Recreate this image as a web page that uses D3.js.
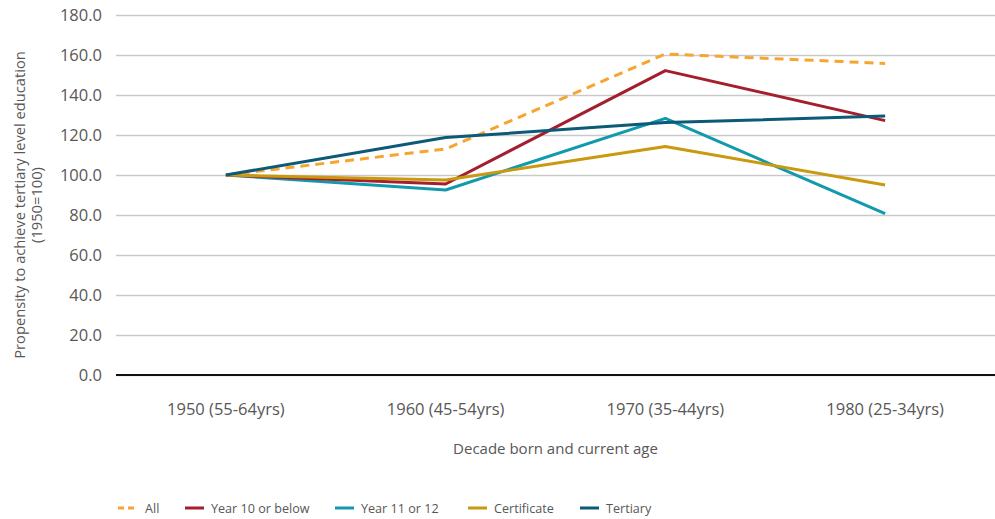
<!DOCTYPE html>
<html>
<head>
<meta charset="utf-8">
<script src="https://cdn.jsdelivr.net/npm/d3@7"></script>
<style>
  body { margin: 0; background: #fff; }
  text { font-family: "Open Sans", sans-serif; fill: #575757; }
</style>
</head>
<body>
<div id="chart"></div>
<script>
// categories on the x axis
const decades = ["1950 (55-64yrs)", "1960 (45-54yrs)", "1970 (35-44yrs)", "1980 (25-34yrs)"];
const yTicks = [0, 20, 40, 60, 80, 100, 120, 140, 160, 180];

// series values (1950 = 100)
const allValues = [100, 113, 160.5, 155.8];
const year10Values = [100, 95.5, 152.2, 127.2];
const year11Values = [100, 92.5, 128.3, 80.7];
const certificateValues = [100, 97.5, 114.2, 95];
const tertiaryValues = [100, 118.7, 126.2, 129.5];

const seriesNames = ["All", "Year 10 or below", "Year 11 or 12", "Certificate", "Tertiary"];
const seriesColors = ["#F7A531", "#A41E2D", "#1199AE", "#C9990F", "#0D5A78"];

const series = [
    { name: seriesNames[0], values: allValues, color: seriesColors[0], dashed: true },
    { name: seriesNames[1], values: year10Values, color: seriesColors[1] },
    { name: seriesNames[2], values: year11Values, color: seriesColors[2] },
    { name: seriesNames[3], values: certificateValues, color: seriesColors[3] },
    { name: seriesNames[4], values: tertiaryValues, color: seriesColors[4] },
];

const width = 995, height = 519;
const margin = { top: 15, right: 0, bottom: 144, left: 116 };

const svg = d3.select("#chart").append("svg")
    .attr("width", width)
    .attr("height", height);

const x = d3.scaleBand()
    .domain(decades)
    .range([margin.left, width - margin.right]);

const y = d3.scaleLinear()
    .domain([0, 180])
    .range([height - margin.bottom, margin.top]);

// gridlines + y labels
const yAxis = svg.append("g")
    .attr("transform", `translate(${margin.left},0)`)
    .call(d3.axisLeft(y).tickValues(yTicks).tickFormat(d3.format(".1f")).tickSize(-(width - margin.left - margin.right)).tickPadding(14));
yAxis.select(".domain").remove();
yAxis.selectAll(".tick line").attr("stroke", "#c9c9c9").attr("stroke-width", 1.3);
yAxis.selectAll(".tick text").attr("font-size", 16.5).style("fill", "#575757");

// baseline
svg.append("line")
    .attr("x1", margin.left).attr("x2", width - margin.right)
    .attr("y1", y(0)).attr("y2", y(0))
    .attr("stroke", "#111").attr("stroke-width", 2);

// x labels
const xAxis = svg.append("g")
    .attr("transform", `translate(0,${y(0)})`)
    .call(d3.axisBottom(x).tickSize(0).tickPadding(28));
xAxis.select(".domain").remove();
xAxis.selectAll(".tick text").attr("font-size", 16.5).style("fill", "#575757");

svg.append("text")
    .attr("x", (margin.left + width - margin.right) / 2)
    .attr("y", 454)
    .attr("text-anchor", "middle")
    .attr("font-size", 15)
    .text("Decade born and current age");

// y title, two lines
const yTitle = svg.append("text")
    .attr("transform", `translate(25,${y(85)}) rotate(-90)`)
    .attr("text-anchor", "middle")
    .attr("font-size", 14.7);
yTitle.append("tspan").attr("x", 0).attr("y", 0).text("Propensity to achieve tertiary level education");
yTitle.append("tspan").attr("x", 0).attr("y", 16.5).text("(1950=100)");

// lines
const line = d3.line()
    .x((d, i) => x(decades[i]) + x.bandwidth() / 2)
    .y(d => y(d));

// draw order: keep tertiary on top as in the source
const drawOrder = [series[2], series[1], series[3], series[0], series[4]];
svg.append("g").selectAll("path")
    .data(drawOrder)
    .join("path")
    .attr("d", d => line(d.values))
    .attr("fill", "none")
    .attr("stroke", d => d.color)
    .attr("stroke-width", 3)
    .attr("stroke-linejoin", "round")
    .attr("stroke-dasharray", d => d.dashed ? "9,6" : null);

// legend
const legendX = [118, 185, 335, 468, 580];
const legend = svg.append("g").selectAll("g")
    .data(series)
    .join("g")
    .attr("transform", (d, i) => `translate(${legendX[i]},508)`);
legend.append("line")
    .attr("x1", 0).attr("x2", 19)
    .attr("stroke", d => d.color)
    .attr("stroke-width", 3)
    .attr("stroke-dasharray", d => d.dashed ? "6,4" : null);
legend.append("text")
    .attr("x", d => d.dashed ? 27 : 26)
    .attr("y", 4.5)
    .attr("font-size", 12.6)
    .text(d => d.name);
</script>
</body>
</html>
